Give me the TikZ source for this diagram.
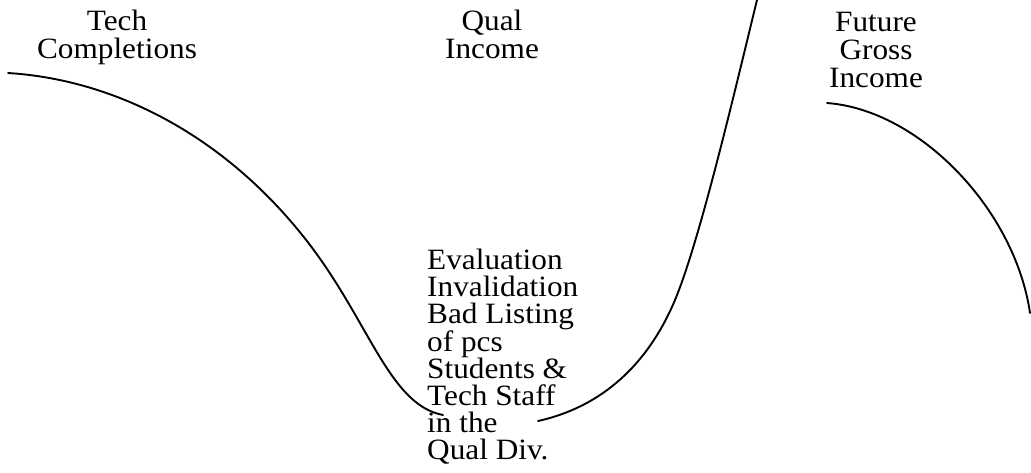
\documentclass[tikz,border=0pt]{standalone}
\usepackage{fontspec}
\setmainfont{Liberation Serif}[FakeStretch=1.06]
\begin{document}
\begin{tikzpicture}[x=1pt,y=-1pt,
  lbl/.style={inner sep=0pt,align=center,font=\fontsize{29.5}{28}\selectfont},
  blk/.style={inner sep=0pt,align=left,font=\fontsize{29.5}{27}\selectfont},
  curve/.style={line width=1.9pt,line cap=round}]
\useasboundingbox (0,0) rectangle (1031,472);
\node[lbl,anchor=north] (tc) at (117,10) {Tech\\Completions};
\node[lbl,anchor=north] (qi) at (492,10) {Qual\\Income};
\node[lbl,anchor=north] (fgi) at (876,12) {Future\\Gross\\Income};
\node[blk,anchor=north west] (ev) at (427,249) {Evaluation\\Invalidation\\Bad Listing\\of pcs\\Students \&\\Tech Staff\\in the\\Qual Div.};
\draw[curve] (8,73) .. controls (120,80) and (230,140) .. (310,245)
  .. controls (370,324) and (390,405) .. (443,415);
\draw[curve] (538,421) .. controls (610,405) and (652,355) .. (675,300)
  .. controls (700,240) and (735,90) .. (757,0);
\draw[curve] (827,103) .. controls (920,110) and (1015,210) .. (1030,313);
\end{tikzpicture}
\end{document}
